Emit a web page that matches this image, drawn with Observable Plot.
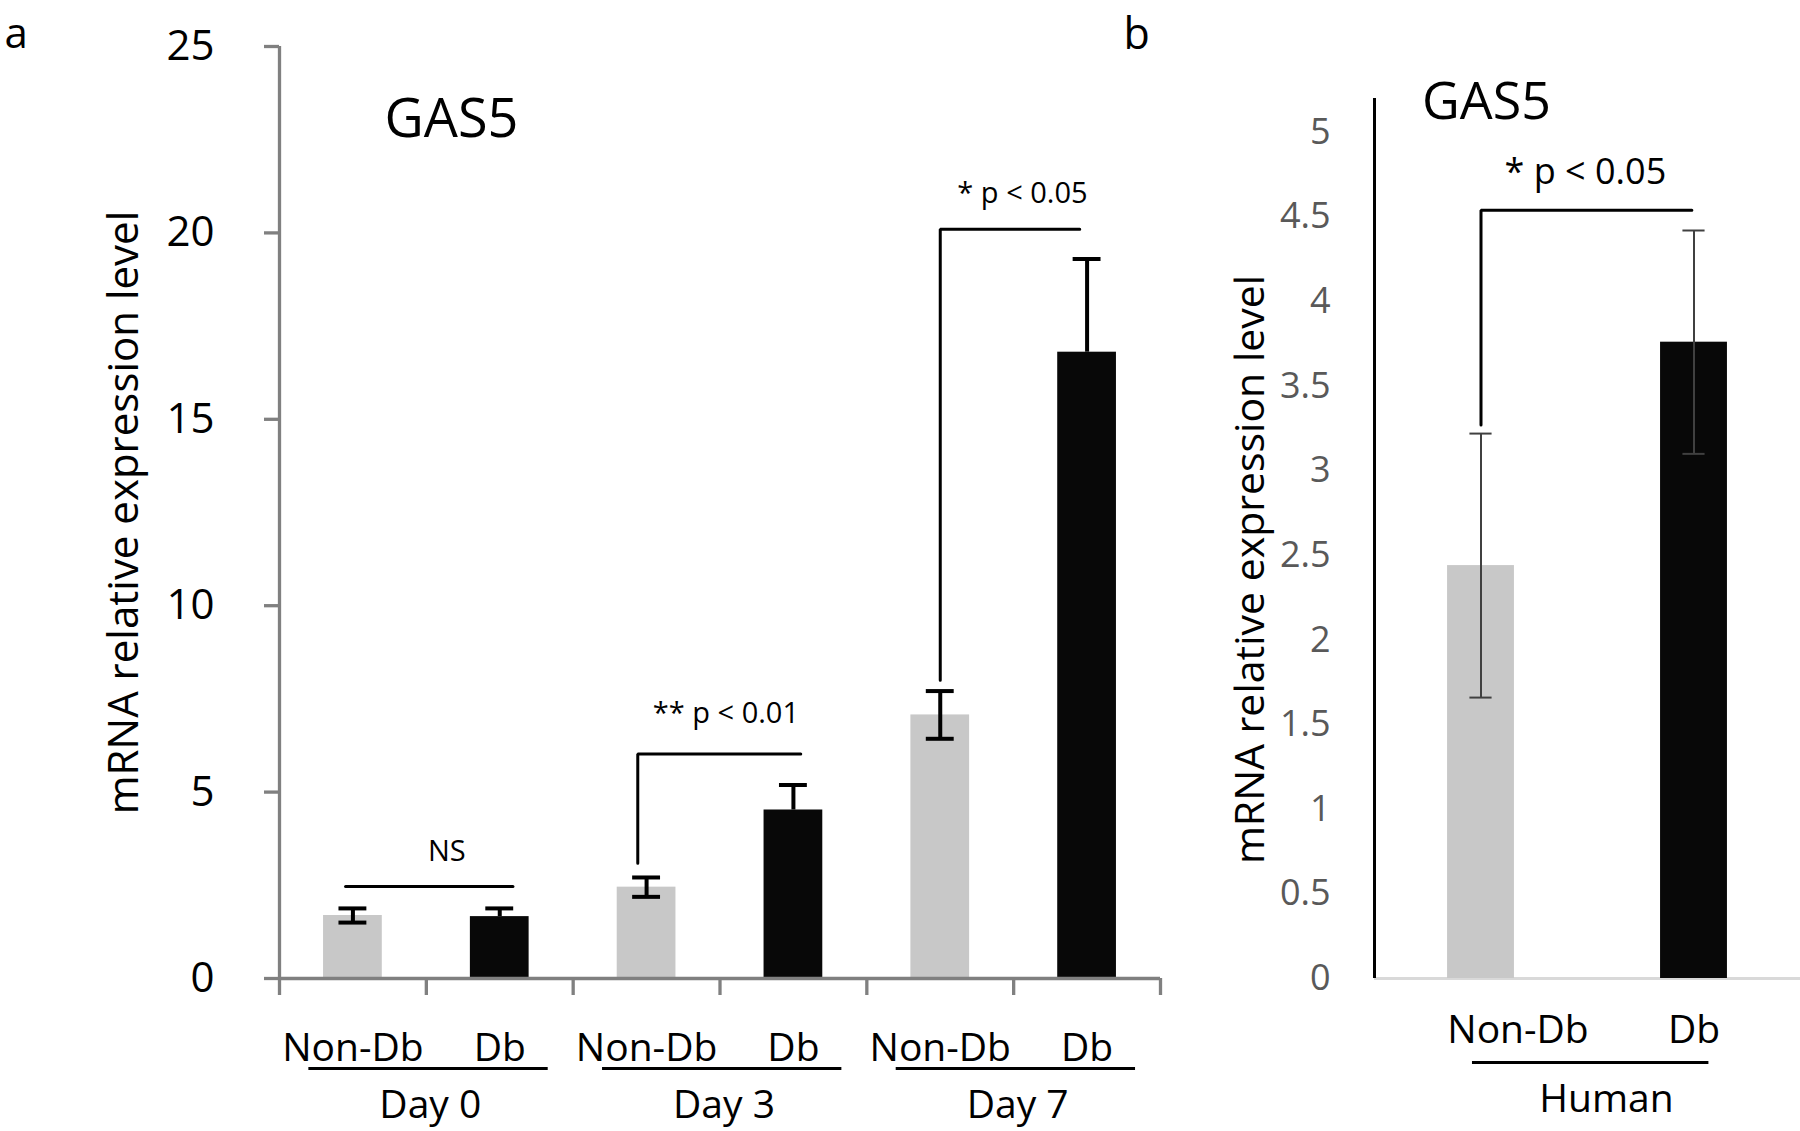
<!DOCTYPE html>
<html>
<head>
<meta charset="utf-8">
<script src="https://cdn.jsdelivr.net/npm/d3@7"></script>
<script src="https://cdn.jsdelivr.net/npm/@observablehq/plot@0.6"></script>
<style>
  html, body { margin: 0; padding: 0; background: #ffffff; }
  #wrap { position: relative; width: 1800px; height: 1131px; overflow: hidden; background: #fff; }
  #pa { position: absolute; left: 0; top: 0; }
  #pb { position: absolute; left: 1100px; top: 0; }
</style>
</head>
<body>
<div id="wrap"><div id="pa"></div><div id="pb"></div></div>
<script>
// ---------- data: panel a ----------
const categoriesA = ["Non-Db", "Db", "Non-Db", "Db", "Non-Db", "Db"];
const groupsA = ["Day 0", "Day 3", "Day 7"];
const valuesA = [1.69, 1.66, 2.45, 4.52, 7.07, 16.8];
const errorsA = [0.19, 0.22, 0.26, 0.67, 0.64, 2.5];
const yTicksA = [0, 5, 10, 15, 20, 25];
// significance annotations (data units: category index, expression level)
const sigTextA = ["NS", "** p < 0.01", "* p < 0.05"];
const sigTextXA = [0.64, 2.54, 4.56];
const sigTextYA = [3.4, 7.1, 21.05];
const bracketXA = [[-0.05, 1.09], [1.94, 1.94, 3.05], [4.0, 4.0, 4.95]];
const bracketYA = [[2.47, 2.47], [3.09, 6.02, 6.02], [8.0, 20.1, 20.1]];

// ---------- data: panel b ----------
const categoriesB = ["Non-Db", "Db"];
const groupB = "Human";
const valuesB = [2.44, 3.76];
const errorsB = [0.78, 0.66];
const yTicksB = [0, 0.5, 1, 1.5, 2, 2.5, 3, 3.5, 4, 4.5, 5];
const sigTextB = "* p < 0.05";
const sigTextXB = 0.49;
const sigTextYB = 4.76;
const bracketXB = [0.0, 0.0, 0.99];
const bracketYB = [3.27, 4.54, 4.54];

const title = "GAS5";
const yLabel = "mRNA relative expression level";
const FONT = "Open Sans";
const LIGHT = "#c8c8c8", DARK = "#080808";

// ---------- panel a ----------
const rowsA = categoriesA.map((c, i) => ({i, c, v: valuesA[i], e: errorsA[i], light: i % 2 === 0, fill: i % 2 === 0 ? LIGHT : DARK}));
const groupRowsA = groupsA.map((g, k) => ({g, a: 2 * k, b: 2 * k + 1}));
const sigRowsA = sigTextA.map((t, k) => ({t, x: sigTextXA[k], y: sigTextYA[k]}));
const bracketRowsA = bracketXA.flatMap((xs, k) => xs.map((x, j) => ({k, x, y: bracketYA[k][j]})));
const boundariesA = d3.range(categoriesA.length + 1).map(k => k - 0.5);
const AX = "#808080";

const pa = Plot.plot({
  width: 1180, height: 1131,
  marginLeft: 279, marginRight: 20, marginTop: 46, marginBottom: 153,
  x: {domain: [-0.5, categoriesA.length - 0.5]},
  y: {domain: [0, 25], label: null},
  color: {type: "identity"},
  style: {fontFamily: FONT, background: "transparent", color: "#000", overflow: "visible"},
  marks: [
    Plot.rectY(rowsA, {x1: d => d.i - 0.2, x2: d => d.i + 0.2, y1: 0, y2: "v", fill: "fill"}),
    Plot.ruleX(rowsA, {x: "i", y1: d => d.light ? d.v - d.e : d.v, y2: d => d.v + d.e, stroke: "#000", strokeWidth: 4}),
    Plot.ruleY(rowsA, {y: d => d.v + d.e, x1: d => d.i - 0.095, x2: d => d.i + 0.095, stroke: "#000", strokeWidth: 4}),
    Plot.ruleY(rowsA.filter(d => d.light), {y: d => d.v - d.e, x1: d => d.i - 0.095, x2: d => d.i + 0.095, stroke: "#000", strokeWidth: 4}),
    Plot.ruleX([-0.5], {stroke: AX, strokeWidth: 3.3}),
    Plot.ruleY([0], {stroke: AX, strokeWidth: 3.3}),
    Plot.axisY({ticks: yTicksA, tickSize: 15, tickPadding: 50, fontSize: 42, stroke: AX, strokeWidth: 3.3, fill: "#000", label: null, tickFormat: d => String(d)}),
    Plot.axisX({ticks: boundariesA, tickSize: 17, tickFormat: () => "", stroke: AX, strokeWidth: 3.3, label: null}),
    Plot.text(rowsA, {x: "i", text: "c", frameAnchor: "bottom", dy: 70, fontSize: 39, textAnchor: "middle", lineAnchor: "middle", fill: "#000"}),
    Plot.ruleY(groupRowsA, {y: () => 0, x1: d => d.a - 0.3, x2: d => d.b + 0.33, dy: 90, stroke: "#000", strokeWidth: 3}),
    Plot.text(groupRowsA, {x: d => (d.a + d.b) / 2, text: "g", frameAnchor: "bottom", dy: 127, dx: 4, fontSize: 39, textAnchor: "middle", lineAnchor: "middle", fill: "#000"}),
    Plot.line(bracketRowsA, {x: "x", y: "y", z: "k", stroke: "#000", strokeWidth: 3, strokeLinejoin: "miter", curve: "linear"}),
    Plot.text(sigRowsA, {x: "x", y: "y", text: "t", fontSize: 29, textAnchor: "middle", lineAnchor: "middle", fill: "#000"}),
    Plot.text([title], {frameAnchor: "top-left", dx: 172, dy: 73, fontSize: 54, textAnchor: "middle", lineAnchor: "middle", fill: "#000"}),
    Plot.text(["a"], {frameAnchor: "top-left", dx: -275, dy: -12, fontSize: 42, textAnchor: "start", lineAnchor: "middle", fill: "#000"}),
    Plot.text([yLabel], {frameAnchor: "left", dx: -155, rotate: -90, fontSize: 42, textAnchor: "middle", lineAnchor: "middle", fill: "#000"})
  ]
});
document.getElementById("pa").appendChild(pa);

// ---------- panel b ----------
const rowsB = categoriesB.map((c, i) => ({i, c, v: valuesB[i], e: errorsB[i], fill: i % 2 === 0 ? LIGHT : DARK}));
const bracketRowsB = bracketXB.map((x, j) => ({x, y: bracketYB[j]}));

const pb = Plot.plot({
  width: 700, height: 1131,
  marginLeft: 274, marginRight: 0, marginTop: 98, marginBottom: 153,
  x: {domain: [-0.5, categoriesB.length - 0.5], axis: null},
  y: {domain: [0, 5.2], label: null},
  color: {type: "identity"},
  style: {fontFamily: FONT, background: "transparent", color: "#000", overflow: "visible"},
  marks: [
    Plot.ruleY([0], {stroke: "#d9d9d9", strokeWidth: 3}),
    Plot.rectY(rowsB, {x1: d => d.i - 0.157, x2: d => d.i + 0.157, y1: 0, y2: "v", fill: "fill"}),
    Plot.ruleX(rowsB, {x: "i", y1: d => d.v - d.e, y2: d => d.v + d.e, stroke: "#404040", strokeWidth: 2}),
    Plot.ruleY(rowsB, {y: d => d.v + d.e, x1: d => d.i - 0.052, x2: d => d.i + 0.052, stroke: "#404040", strokeWidth: 2}),
    Plot.ruleY(rowsB, {y: d => d.v - d.e, x1: d => d.i - 0.052, x2: d => d.i + 0.052, stroke: "#404040", strokeWidth: 2}),
    Plot.ruleX([-0.5], {stroke: "#000", strokeWidth: 3}),
    Plot.axisY({ticks: yTicksB, tickSize: 0, tickPadding: 44, fontSize: 36, fill: "#595959", stroke: "none", label: null, tickFormat: d => String(d)}),
    Plot.text(rowsB.filter(d => d.i === 0), {x: "i", text: "c", frameAnchor: "bottom", dx: 37, dy: 52, fontSize: 39, textAnchor: "middle", lineAnchor: "middle", fill: "#000"}),
    Plot.text(rowsB.filter(d => d.i === 1), {x: "i", text: "c", frameAnchor: "bottom", dy: 52, fontSize: 39, textAnchor: "middle", lineAnchor: "middle", fill: "#000"}),
    Plot.ruleY([groupB], {y: () => 0, x1: -0.04, x2: 1.07, dy: 84, stroke: "#000", strokeWidth: 3}),
    Plot.text([groupB], {x: () => 0.5, frameAnchor: "bottom", dx: 19, dy: 121, fontSize: 39, textAnchor: "middle", lineAnchor: "middle", fill: "#000"}),
    Plot.line(bracketRowsB, {x: "x", y: "y", stroke: "#000", strokeWidth: 3, strokeLinejoin: "miter"}),
    Plot.text([sigTextB], {x: () => sigTextXB, y: () => sigTextYB, fontSize: 36, textAnchor: "middle", lineAnchor: "middle", fill: "#000"}),
    Plot.text([title], {frameAnchor: "top-left", dx: 112, dy: 4, fontSize: 52, textAnchor: "middle", lineAnchor: "middle", fill: "#000"}),
    Plot.text(["b"], {frameAnchor: "top-left", dx: -251, dy: -63, fontSize: 43, textAnchor: "start", lineAnchor: "middle", fill: "#000"}),
    Plot.text([yLabel], {frameAnchor: "left", dx: -124, dy: 31, rotate: -90, fontSize: 41, textAnchor: "middle", lineAnchor: "middle", fill: "#000"})
  ]
});
document.getElementById("pb").appendChild(pb);
</script>
</body>
</html>
